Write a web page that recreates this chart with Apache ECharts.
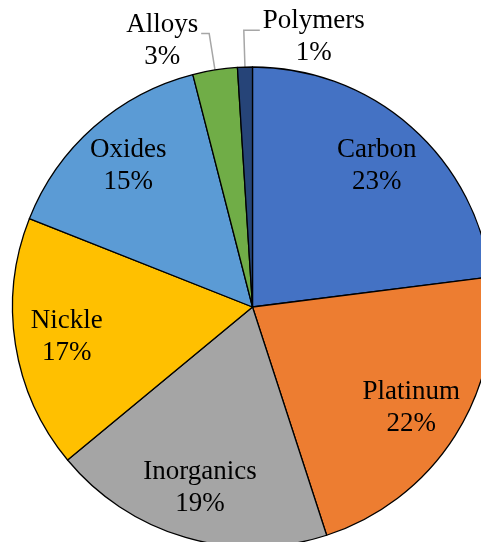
<!DOCTYPE html>
<html>
<head>
<meta charset="utf-8">
<script src="https://cdn.jsdelivr.net/npm/echarts@6/dist/echarts.min.js"></script>
<style>
  html, body { margin: 0; padding: 0; background: #fff; }
  #chart { width: 481px; height: 542px; }
</style>
</head>
<body>
<div id="chart"></div>
<script>
// Catalyst material shares (%)
const categories = ['Carbon', 'Platinum', 'Inorganics', 'Nickle', 'Oxides', 'Alloys', 'Polymers'];
const shares = [23, 22, 19, 17, 15, 3, 1];

const sliceColors = ['#4472C4', '#ED7D31', '#A5A5A5', '#FFC000', '#5B9BD5', '#70AD47', '#264478'];
// small slices get their label outside with a leader line
const outsideLabels = { Alloys: { length2: 8 }, Polymers: { length2: 16, rightward: true } };

const CENTER = [252.5, 307];
const R = 240;
const FONT = 'Liberation Serif, "Times New Roman", serif';
const LABEL_GAP = 3;

const chart = echarts.init(document.getElementById('chart'), null, { renderer: 'canvas' });

const sliceData = categories.map((name, i) => ({
  name, value: shares[i], itemStyle: { color: sliceColors[i] }
}));

const labelData = categories.map((name, i) => {
  const item = { name, value: shares[i] };
  const out = outsideLabels[name];
  if (out) {
    item.label = { position: 'outside', distanceToLabelLine: LABEL_GAP };
    item.labelLine = { show: true, length: 37, length2: out.length2,
      lineStyle: { color: '#A6A6A6', width: 1.5 } };
  }
  return item;
});

chart.setOption({
  backgroundColor: '#ffffff',
  animation: false,
  series: [
    {
      type: 'pie',
      center: CENTER,
      radius: R,
      startAngle: 90,
      clockwise: true,
      silent: true,
      label: { show: false },
      labelLine: { show: false },
      emphasis: { disabled: true },
      itemStyle: { borderColor: '#000', borderWidth: 1.3 },
      data: sliceData
    },
    {
      // transparent ring that only carries the labels
      type: 'pie',
      center: CENTER,
      radius: [130, R],
      startAngle: 90,
      clockwise: true,
      silent: true,
      avoidLabelOverlap: false,
      emphasis: { disabled: true },
      itemStyle: { color: 'rgba(0,0,0,0)', borderWidth: 0 },
      label: {
        show: true,
        position: 'inside',
        color: '#000',
        fontFamily: FONT,
        fontSize: 27,
        lineHeight: 32,
        align: 'center',
        formatter: p => p.name + '\n' + p.percent + '%'
      },
      labelLine: { show: false },
      labelLayout: params => {
        const out = outsideLabels[categories[params.dataIndex]];
        if (!out || !params.labelLinePoints) return {};
        const pts = params.labelLinePoints.map(p => [p[0], p[1]]);
        const w = params.labelRect.width;
        let x;
        if (out.rightward) {
          // turn the horizontal part of the leader to the right
          pts[2] = [2 * pts[1][0] - pts[2][0], pts[2][1]];
          x = pts[2][0] + LABEL_GAP + w / 2;
        } else {
          x = pts[2][0] - LABEL_GAP - w / 2;
        }
        return {
          x: x,
          y: pts[2][1] + 7,
          align: 'center',
          verticalAlign: 'middle',
          labelLinePoints: pts
        };
      },
      data: labelData
    }
  ]
});
</script>
</body>
</html>
